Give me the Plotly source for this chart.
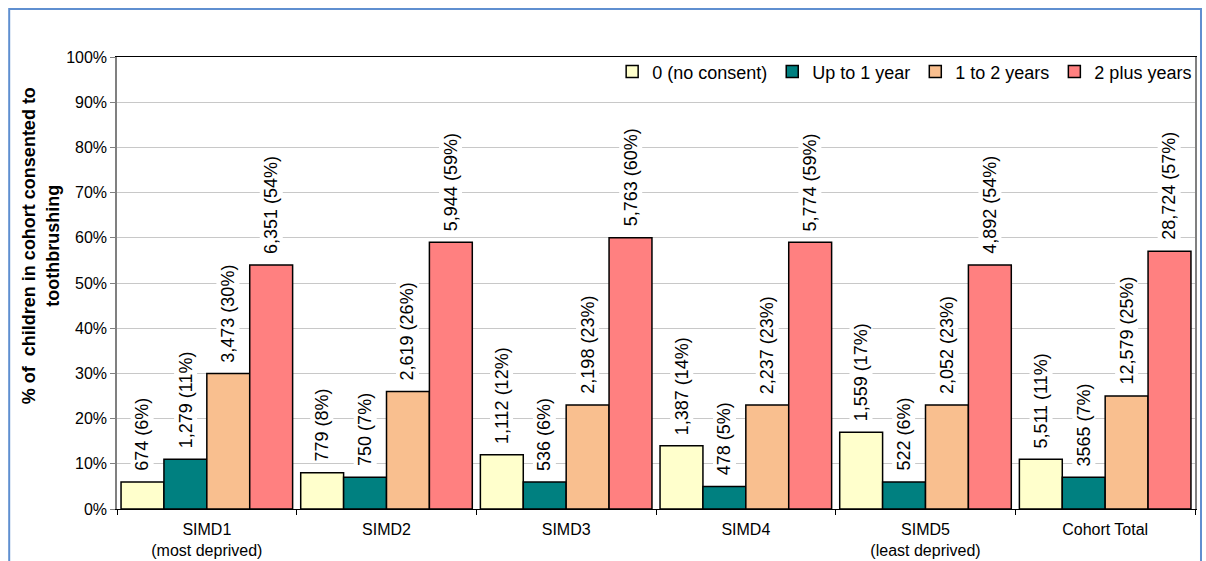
import plotly.graph_objects as go

# Categories and series
groups = ["SIMD1<br>(most deprived)", "SIMD2", "SIMD3", "SIMD4",
          "SIMD5<br>(least deprived)", "Cohort Total"]
series_names = ["0 (no consent)", "Up to 1 year", "1 to 2 years", "2 plus years"]

pct_no_consent = [6, 8, 12, 14, 17, 11]
pct_up_to_1 = [11, 7, 6, 5, 6, 7]
pct_1_to_2 = [30, 26, 23, 23, 23, 25]
pct_2_plus = [54, 59, 60, 59, 54, 57]

n_no_consent = ["674", "779", "1,112", "1,387", "1,559", "5,511"]
n_up_to_1 = ["1,279", "750", "536", "478", "522", "3565"]
n_1_to_2 = ["3,473", "2,619", "2,198", "2,237", "2,052", "12,579"]
n_2_plus = ["6,351", "5,944", "5,763", "5,774", "4,892", "28,724"]

y_ticks = [0, 10, 20, 30, 40, 50, 60, 70, 80, 90, 100]
y_title = "% of  children in cohort consented to<br>toothbrushing"

colors = ["#FFFFCC", "#008080", "#F9BF8F", "#FF8080"]
pcts = [pct_no_consent, pct_up_to_1, pct_1_to_2, pct_2_plus]
counts = [n_no_consent, n_up_to_1, n_1_to_2, n_2_plus]

FONT = "Liberation Sans, Arial, sans-serif"
BARGAP = 0.045
n_series = len(series_names)
bar_w = (1 - BARGAP) / n_series
xpos = list(range(len(groups)))

fig = go.Figure()
for name, col, vals in zip(series_names, colors, pcts):
    fig.add_trace(go.Bar(
        name=name, x=xpos, y=vals,
        marker=dict(color=col, line=dict(color="#000000", width=1.5)),
    ))

# Rotated value labels above each bar
for j, (vals, cnts) in enumerate(zip(pcts, counts)):
    off = (j - (n_series - 1) / 2) * bar_w
    for i, (v, c) in enumerate(zip(vals, cnts)):
        fig.add_annotation(
            x=i + off, y=v, xref="x", yref="y",
            text=f"{c} ({v}%)", textangle=-90,
            showarrow=False, yanchor="bottom", xanchor="center",
            yshift=9, bgcolor="#FFFFFF", borderpad=1,
            font=dict(family=FONT, size=18, color="#000000"),
        )

# Layout geometry (pixels)
W, H = 1206, 561
L, R, T, B = 117, 9, 57, 52
pw, ph = W - L - R, H - T - B

# Y-axis title, drawn as a rotated annotation
fig.add_annotation(
    x=(40 - L) / pw, y=(H - B - 246) / ph, xref="paper", yref="paper",
    text=f"<b>{y_title}</b>", textangle=-90, showarrow=False,
    xanchor="center", yanchor="middle", align="center",
    font=dict(family=FONT, size=18, color="#000000"),
)

# Outer chart frame
fig.add_shape(
    type="rect", xref="paper", yref="paper",
    x0=(9 - L) / pw, x1=(1203 - L) / pw,
    y0=(H - B - 600) / ph, y1=(H - B - 9) / ph,
    line=dict(color="#5F8FD0", width=2), fillcolor="rgba(0,0,0,0)",
    layer="below",
)

fig.update_layout(
    width=W, height=H,
    margin=dict(l=L, r=R, t=T, b=B),
    paper_bgcolor="#FFFFFF", plot_bgcolor="#FFFFFF",
    barmode="group", bargap=BARGAP, bargroupgap=0,
    font=dict(family=FONT, size=16, color="#000000"),
    showlegend=True,
    legend=dict(
        orientation="h", x=1.002, xanchor="right", y=1.008, yanchor="top",
        font=dict(family=FONT, size=18, color="#000000"),
        bgcolor="rgba(255,255,255,0)", itemwidth=30, tracegroupgap=0,
        traceorder="normal",
    ),
    xaxis=dict(
        range=[-0.5, len(groups) - 0.5], automargin=False,
        tickvals=xpos, ticktext=groups,
        ticks="outside", ticklen=6, tickcolor="rgba(0,0,0,0)",
        showline=True, linecolor="#000000", linewidth=1.2,
        mirror=True, showgrid=False, zeroline=False,
        minor=dict(tick0=-0.5, dtick=1, ticks="outside", ticklen=5,
                   tickcolor="#000000", showgrid=False),
        tickfont=dict(family=FONT, size=16, color="#000000"),
    ),
    yaxis=dict(
        range=[0, 100], tickvals=y_ticks, automargin=False,
        ticktext=[f"{t}%" for t in y_ticks],
        ticks="outside", ticklen=5, tickcolor="#808080",
        showline=True, linecolor="#808080", linewidth=1.5, mirror=True,
        showgrid=True, gridcolor="#C8C8C8", gridwidth=1.2, zeroline=False,
        tickfont=dict(family=FONT, size=16, color="#000000"),
    ),
)

fig.write_html("out.html")
